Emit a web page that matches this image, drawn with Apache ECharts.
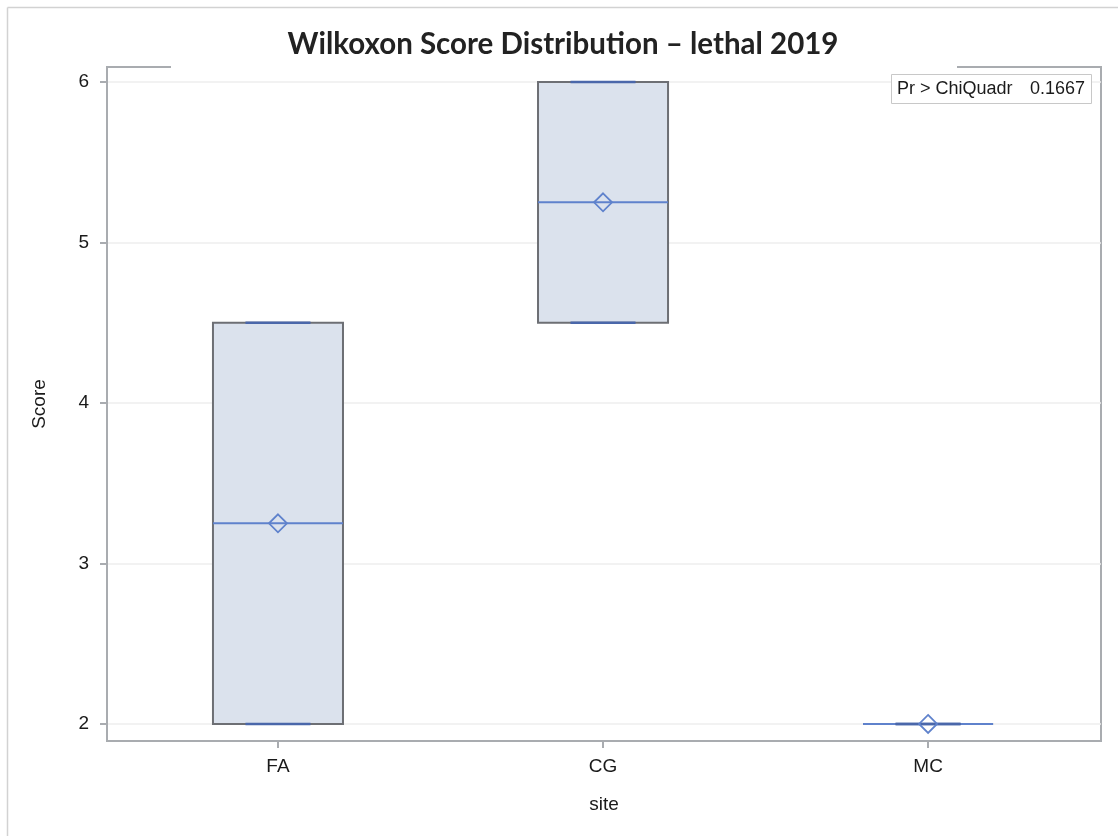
<!DOCTYPE html>
<html>
<head>
<meta charset="utf-8">
<title>Wilkoxon Score Distribution</title>
<script src="https://cdn.jsdelivr.net/npm/echarts@6/dist/echarts.min.js"></script>
<style>
  html, body { margin: 0; padding: 0; background: #ffffff; }
  #chart { width: 1118px; height: 836px; }
</style>
</head>
<body>
<div id="chart"></div>
<script>
// Sites along the x axis
const sites = ['FA', 'CG', 'MC'];
// Box statistics per site (Wilcoxon scores)
const minScore = [2, 4.5, 2];
const q1Score = [2, 4.5, 2];
const medianScore = [3.25, 5.25, 2];
const q3Score = [4.5, 6, 2];
const maxScore = [4.5, 6, 2];
const meanScore = [3.25, 5.25, 2];
// Y axis tick values
const scoreTicks = [2, 3, 4, 5, 6];
// Test statistic shown in the inset
const statLabel = 'Pr > ChiQuadr';
const statValue = '0.1667';

const boxData = sites.map((s, i) => [i, minScore[i], q1Score[i], medianScore[i], q3Score[i], maxScore[i], meanScore[i]]);

const frameColor = '#a9acb0';
const labelFont = 'Liberation Sans';

// One box per site: IQR box, median line, whisker caps and mean diamond
function renderBox(params, api) {
  const x = api.value(0);
  const half = 0.2, capHalf = 0.1;
  const tl = api.coord([x - half, api.value(4)]);
  const br = api.coord([x + half, api.value(2)]);
  const medL = api.coord([x - half, api.value(3)]);
  const medR = api.coord([x + half, api.value(3)]);
  const maxL = api.coord([x - capHalf, api.value(5)]);
  const maxR = api.coord([x + capHalf, api.value(5)]);
  const minL = api.coord([x - capHalf, api.value(1)]);
  const minR = api.coord([x + capHalf, api.value(1)]);
  const mean = api.coord([x, api.value(6)]);
  const d = 9;
  return {
    type: 'group',
    children: [
      { type: 'rect', shape: { x: tl[0], y: tl[1], width: br[0] - tl[0], height: br[1] - tl[1] },
        style: { fill: '#dbe2ed', stroke: '#6d6f74', lineWidth: 2 } },
      { type: 'line', shape: { x1: medL[0], y1: medL[1], x2: medR[0], y2: medR[1] },
        style: { stroke: '#5f82cc', lineWidth: 2 } },
      { type: 'line', shape: { x1: maxL[0], y1: maxL[1], x2: maxR[0], y2: maxR[1] },
        style: { stroke: '#4a67aa', lineWidth: 2.5 } },
      { type: 'line', shape: { x1: minL[0], y1: minL[1], x2: minR[0], y2: minR[1] },
        style: { stroke: '#4a67aa', lineWidth: 2.5 } },
      { type: 'polygon', shape: { points: [[mean[0], mean[1] - d], [mean[0] + d, mean[1]], [mean[0], mean[1] + d], [mean[0] - d, mean[1]]] },
        style: { fill: 'none', stroke: '#5f82cc', lineWidth: 1.8 } }
    ]
  };
}

const chart = echarts.init(document.getElementById('chart'), null, { renderer: 'canvas' });
chart.setOption({
  backgroundColor: '#ffffff',
  animation: false,
  title: {
    text: 'Wilkoxon Score Distribution \u2013 lethal 2019',
    left: 558,
    textAlign: 'center',
    top: 24,
    textStyle: { fontFamily: 'Lato', fontWeight: 'bold', fontSize: 29.5, color: '#222222' }
  },
  grid: {
    left: 107, right: 17, top: 67, bottom: 95,
    show: true, borderColor: frameColor, borderWidth: 2, backgroundColor: 'transparent'
  },
  xAxis: {
    type: 'value',
    min: -0.526, max: 2.532,
    name: 'site', nameLocation: 'middle', nameGap: 54,
    nameTextStyle: { fontFamily: labelFont, fontSize: 19, color: '#1a1a1a' },
    axisLine: { show: true, onZero: false, lineStyle: { color: frameColor, width: 2 } },
    axisTick: { show: true, customValues: [0, 1, 2], length: 7, lineStyle: { color: frameColor, width: 2 } },
    axisLabel: {
      customValues: [0, 1, 2], margin: 16,
      formatter: v => sites[Math.round(v)] || '',
      fontFamily: labelFont, fontSize: 19, color: '#1a1a1a'
    },
    splitLine: { show: false }
  },
  yAxis: {
    type: 'value',
    min: 1.894, max: 6.093,
    name: 'Score', nameLocation: 'middle', nameGap: 58, nameRotate: 90,
    nameTextStyle: { fontFamily: labelFont, fontSize: 19, color: '#1a1a1a' },
    axisLine: { show: true, onZero: false, lineStyle: { color: frameColor, width: 2 } },
    axisTick: { show: true, customValues: scoreTicks, length: 7, lineStyle: { color: frameColor, width: 2 } },
    axisLabel: { customValues: scoreTicks, margin: 18, fontFamily: labelFont, fontSize: 19, color: '#1a1a1a' },
    splitLine: { show: true, lineStyle: { color: '#eeeeee', width: 1.5 } }
  },
  series: [{
    type: 'custom',
    renderItem: renderBox,
    encode: { x: 0, y: [1, 2, 3, 4, 5, 6] },
    data: boxData,
    clip: false,
    z: 5
  }],
  graphic: [
    // outer page border
    { type: 'line', z: 100, shape: { x1: 7.5, y1: 7.5, x2: 1118, y2: 7.5 }, style: { stroke: '#d2d2d2', lineWidth: 1.5 } },
    { type: 'line', z: 100, shape: { x1: 7.5, y1: 7.5, x2: 7.5, y2: 836 }, style: { stroke: '#d2d2d2', lineWidth: 1.5 } },
    // gap in the top frame behind the title
    { type: 'rect', z: 100, shape: { x: 171, y: 64, width: 786, height: 6 }, style: { fill: '#ffffff' } },
    // statistic inset
    { type: 'rect', z: 100, shape: { x: 891.5, y: 74.5, width: 200, height: 29 }, style: { fill: '#ffffff', stroke: '#c8c8c8', lineWidth: 1 } },
    { type: 'text', z: 101, x: 897, y: 89, style: { text: statLabel, fontFamily: labelFont, fontSize: 18, fill: '#1a1a1a', align: 'left', verticalAlign: 'middle' } },
    { type: 'text', z: 101, x: 1085, y: 89, style: { text: statValue, fontFamily: labelFont, fontSize: 18, fill: '#1a1a1a', align: 'right', verticalAlign: 'middle' } }
  ]
});
</script>
</body>
</html>
